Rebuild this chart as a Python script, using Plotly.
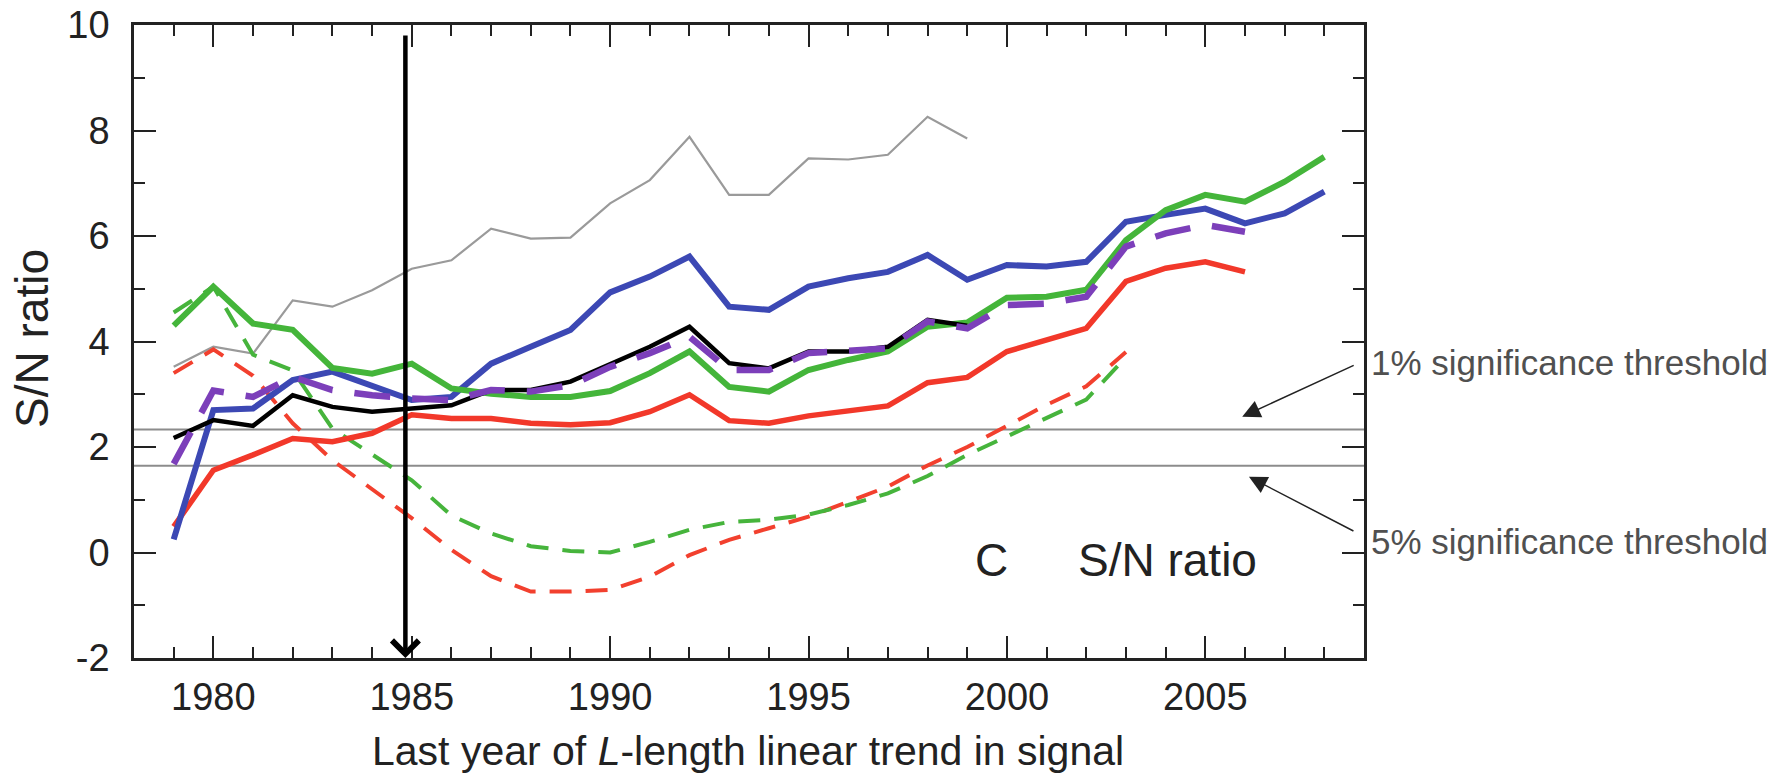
import plotly.graph_objects as go

# Last year of the L-length trend
years = list(range(1979, 2009))

# S/N ratio series (one value per year, starting in 1979)
gray_thin = [3.52, 3.90, 3.77, 4.78, 4.66, 4.97, 5.38, 5.54, 6.14, 5.95, 5.97,
             6.62, 7.06, 7.88, 6.78, 6.78, 7.47, 7.45, 7.54, 8.26, 7.85]
blue = [0.25, 2.70, 2.73, 3.27, 3.43, 3.17, 2.89, 2.95, 3.58, 3.90, 4.22,
        4.93, 5.23, 5.61, 4.66, 4.60, 5.04, 5.20, 5.32, 5.64, 5.17, 5.45,
        5.42, 5.51, 6.27, 6.40, 6.52, 6.24, 6.43, 6.84]
green = [4.30, 5.04, 4.34, 4.22, 3.50, 3.39, 3.58, 3.11, 3.01, 2.95, 2.95,
         3.06, 3.40, 3.81, 3.14, 3.05, 3.46, 3.65, 3.81, 4.28, 4.36, 4.83,
         4.85, 4.98, 5.92, 6.49, 6.78, 6.65, 7.03, 7.50]
black = [2.17, 2.51, 2.40, 2.98, 2.76, 2.67, 2.73, 2.79, 3.08, 3.08, 3.24,
         3.56, 3.90, 4.28, 3.59, 3.49, 3.81, 3.81, 3.90, 4.41, 4.30]
purple_dash = [1.68, 3.07, 2.95, 3.33, 3.08, 2.98, 2.92, 2.89, 3.08, 3.05,
               3.17, 3.52, 3.78, 4.09, 3.46, 3.46, 3.78, 3.84, 3.87, 4.38,
               4.25, 4.69, 4.72, 4.85, 5.80, 6.05, 6.21, 6.08]
red = [0.49, 1.56, 1.85, 2.16, 2.10, 2.26, 2.61, 2.54, 2.54, 2.45, 2.42,
       2.46, 2.67, 2.99, 2.50, 2.45, 2.59, 2.68, 2.78, 3.22, 3.32, 3.81,
       4.03, 4.25, 5.14, 5.39, 5.51, 5.32]
red_dash = [3.40, 3.85, 3.35, 2.45, 1.75, 1.20, 0.65, 0.05, -0.45, -0.74,
            -0.74, -0.71, -0.46, -0.05, 0.24, 0.46, 0.68, 0.96, 1.25, 1.65,
            2.00, 2.40, 2.80, 3.15, 3.80]
green_dash = [4.55, 5.04, 3.75, 3.45, 2.35, 1.85, 1.37, 0.70, 0.36, 0.12,
              0.03, 0.00, 0.20, 0.43, 0.58, 0.62, 0.72, 0.90, 1.12, 1.45,
              1.85, 2.20, 2.55, 2.90, 3.70]

# Significance thresholds (1% and 5%)
thresholds = [2.33, 1.645]
threshold_labels = ["1% significance threshold", "5% significance threshold"]

# Axis tick values and labels
x_ticks = [1980, 1985, 1990, 1995, 2000, 2005]
y_ticks = [-2, 0, 2, 4, 6, 8, 10]
y_tick_labels = ["-2", "0", "2", "4", "6", "8", "10"]

# Year marked by the vertical arrow
marked_year = 1984.84

FONT = "Liberation Sans, Arial, Helvetica, sans-serif"

series = [
    # (values, colour, width, dash)
    (gray_thin, "#9a9a9a", 2.2, "solid"),
    (red_dash, "#f2402e", 4.0, "22px,14px"),
    (green_dash, "#46b43c", 4.0, "22px,14px"),
    (red, "#f2382a", 5.5, "solid"),
    (blue, "#3c48b4", 6.0, "solid"),
    (green, "#44b53a", 6.0, "solid"),
    (black, "#000000", 4.5, "solid"),
    (purple_dash, "#7c3fba", 6.5, "36px,22px"),
]

fig = go.Figure()
for vals, colour, width, dash in series:
    fig.add_trace(go.Scatter(
        x=years[:len(vals)], y=vals, mode="lines",
        line=dict(color=colour, width=width, dash=dash),
        showlegend=False, hoverinfo="skip",
    ))

for t in thresholds:
    fig.add_hline(y=t, line=dict(color="#8c8c8c", width=2), layer="below")

axis_common = dict(
    showline=True, linecolor="#222", linewidth=2.5, mirror="ticks",
    ticks="inside", ticklen=22, tickwidth=2, tickcolor="#222",
    showgrid=False, zeroline=False,
    tickfont=dict(family=FONT, size=38, color="#222"),
)

fig.update_xaxes(
    range=[1978, 2009], tickmode="array", tickvals=x_ticks,
    ticktext=[str(v) for v in x_ticks],
    minor=dict(dtick=1, tick0=1978, ticks="inside", ticklen=11,
               tickwidth=2, tickcolor="#222"),
    ticklabelstandoff=4,
    **axis_common,
)
fig.update_yaxes(
    range=[-2, 10], tickmode="array", tickvals=y_ticks,
    ticktext=y_tick_labels,
    minor=dict(dtick=1, tick0=-2, ticks="inside", ticklen=11,
               tickwidth=2, tickcolor="#222"),
    ticklabelstandoff=14,
    **axis_common,
)

annotations = [
    # axis titles
    dict(text="Last year of <i>L</i>-length linear trend in signal",
         xref="paper", yref="paper", x=0.499, y=-0.147,
         xanchor="center", yanchor="middle", showarrow=False,
         font=dict(family=FONT, size=41, color="#222")),
    dict(text="S/N ratio", textangle=-90,
         xref="paper", yref="paper", x=-0.083, y=0.5055,
         xanchor="center", yanchor="middle", showarrow=False,
         font=dict(family=FONT, size=46, color="#222")),
    # panel labels
    dict(text="C", xref="x", yref="y", x=1999.6, y=-0.15,
         showarrow=False, font=dict(family=FONT, size=46, color="#222")),
    dict(text="S/N ratio", xref="x", yref="y", x=2004.05, y=-0.15,
         showarrow=False, font=dict(family=FONT, size=46, color="#222")),
    # threshold labels
    dict(text=threshold_labels[0], xref="paper", yref="paper",
         x=1.004, y=0.4676, xanchor="left", yanchor="middle",
         showarrow=False, font=dict(family=FONT, size=35, color="#505050")),
    dict(text=threshold_labels[1], xref="paper", yref="paper",
         x=1.004, y=0.1848, xanchor="left", yanchor="middle",
         showarrow=False, font=dict(family=FONT, size=35, color="#505050")),
    # pointers to the threshold lines
    dict(text="", xref="x", yref="y", x=2005.93, y=thresholds[0] + 0.245,
         ax=113, ay=-52, showarrow=True, arrowhead=2, arrowsize=2.4,
         arrowwidth=1.5, arrowcolor="#222"),
    dict(text="", xref="x", yref="y", x=2006.1, y=thresholds[1] - 0.21,
         ax=106, ay=55, showarrow=True, arrowhead=2, arrowsize=2.4,
         arrowwidth=1.5, arrowcolor="#222"),
    # vertical marker arrow
    dict(text="", xref="x", yref="y", x=marked_year, y=-2,
         axref="x", ayref="y", ax=marked_year, ay=9.83,
         showarrow=True, arrowhead=4, arrowsize=1.15, arrowwidth=4.5,
         arrowcolor="#000"),
]

fig.update_layout(
    width=1782, height=774,
    margin=dict(l=134, r=418, t=25, b=116, autoexpand=False),
    plot_bgcolor="white", paper_bgcolor="white",
    annotations=annotations,
    font=dict(family=FONT),
)

fig.write_html("out.html", config={"displayModeBar": False})
